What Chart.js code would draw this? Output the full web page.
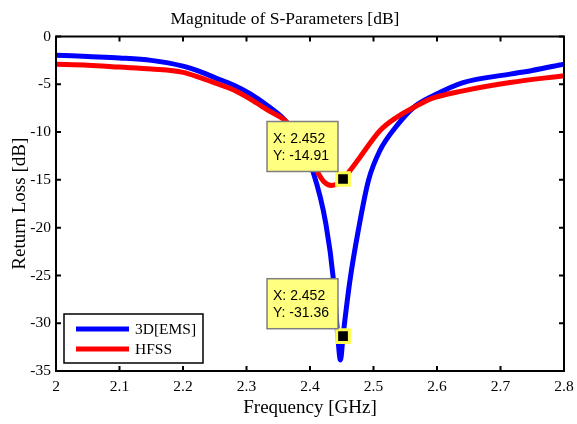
<!DOCTYPE html>
<html>
<head>
<meta charset="utf-8">
<script src="https://cdn.jsdelivr.net/npm/chart.js@4.4.0/dist/chart.umd.min.js"></script>
<style>
  html, body { margin: 0; padding: 0; background: #fff; }
</style>
</head>
<body>
<canvas id="chart" width="577" height="424"></canvas>
<script>
// 3D[EMS] simulation
const emsFreq = [2.000, 2.050, 2.100, 2.150, 2.200, 2.227, 2.250, 2.280, 2.306, 2.337, 2.361, 2.380, 2.405, 2.425, 2.437, 2.443, 2.448, 2.452, 2.463, 2.476, 2.492, 2.510, 2.536, 2.563, 2.594, 2.641, 2.715, 2.750, 2.800];
const emsLoss = [-1.95, -2.1, -2.25, -2.5, -3.1, -3.67, -4.3, -5.1, -6.0, -7.43, -8.8, -10.7, -14.2, -19.6, -25.5, -30.7, -33.85, -31.36, -25.5, -20.3, -15.07, -11.95, -9.4, -7.43, -6.2, -4.82, -3.94, -3.55, -2.9];

// HFSS simulation
const hfssFreq = [2.000, 2.050, 2.100, 2.150, 2.200, 2.227, 2.250, 2.280, 2.306, 2.337, 2.361, 2.380, 2.400, 2.413, 2.422, 2.434, 2.445, 2.452, 2.463, 2.479, 2.510, 2.536, 2.563, 2.589, 2.641, 2.715, 2.800];
const hfssLoss = [-2.9, -3.0, -3.2, -3.4, -3.75, -4.3, -4.85, -5.6, -6.55, -7.84, -8.8, -10.3, -12.6, -14.3, -15.2, -15.6, -15.35, -14.91, -14.03, -12.6, -9.86, -8.47, -7.43, -6.55, -5.69, -4.82, -4.1];

// data tips
const tipFreq = [2.452, 2.452];
const tipLoss = [-14.91, -31.36];

const xTicks = [2, 2.1, 2.2, 2.3, 2.4, 2.5, 2.6, 2.7, 2.8];
const yTicks = [-35, -30, -25, -20, -15, -10, -5, 0];

const serif = '"Liberation Serif", "Times New Roman", serif';
const toPoints = (xs, ys) => xs.map((x, i) => ({ x: x, y: ys[i] }));

// black box round the axes with inward ticks on all four sides
const framePlugin = {
  id: 'frame',
  afterDatasetsDraw(chart) {
    const { ctx, chartArea: a, scales } = chart;
    const len = 5;
    ctx.save();
    ctx.strokeStyle = '#000';
    ctx.lineWidth = 2;
    ctx.beginPath();
    xTicks.forEach(v => {
      const px = scales.x.getPixelForValue(v);
      ctx.moveTo(px, a.bottom); ctx.lineTo(px, a.bottom - len);
      ctx.moveTo(px, a.top); ctx.lineTo(px, a.top + len);
    });
    yTicks.forEach(v => {
      const py = scales.y.getPixelForValue(v);
      ctx.moveTo(a.left, py); ctx.lineTo(a.left + len, py);
      ctx.moveTo(a.right, py); ctx.lineTo(a.right - len, py);
    });
    ctx.stroke();
    ctx.strokeRect(a.left, a.top, a.right - a.left, a.bottom - a.top);
    ctx.restore();
  }
};

// legend box in the lower left corner
const boxLegend = {
  id: 'boxLegend',
  afterDraw(chart) {
    const { ctx, chartArea: a } = chart;
    const items = chart.data.datasets.filter(d => d.inLegend);
    const x0 = a.left + 8, w = 139, rowH = 20, h = 49;
    const y0 = a.bottom - 8 - h;
    ctx.save();
    ctx.fillStyle = '#fff';
    ctx.fillRect(x0, y0, w, h);
    ctx.strokeStyle = '#000';
    ctx.lineWidth = 1.5;
    ctx.strokeRect(x0, y0, w, h);
    ctx.font = '15.5px ' + serif;
    ctx.textBaseline = 'middle';
    ctx.fillStyle = '#000';
    items.forEach((d, i) => {
      const cy = y0 + 15 + i * rowH;
      ctx.strokeStyle = d.borderColor;
      ctx.lineWidth = 5;
      ctx.beginPath();
      ctx.moveTo(x0 + 12, cy);
      ctx.lineTo(x0 + 65, cy);
      ctx.stroke();
      ctx.fillText(d.label, x0 + 71, cy + 1);
    });
    ctx.restore();
  }
};

// MATLAB style data tip boxes
const dataTips = {
  id: 'dataTips',
  afterDraw(chart) {
    const { ctx, scales } = chart;
    ctx.save();
    tipFreq.forEach((f, i) => {
      const px = scales.x.getPixelForValue(f);
      const py = scales.y.getPixelForValue(tipLoss[i]);
      const bx = px - 76, by = py - 57.5, bw = 71, bh = 50;
      ctx.fillStyle = '#ffff80';
      ctx.fillRect(bx, by, bw, bh);
      ctx.strokeStyle = '#7f7f7f';
      ctx.lineWidth = 1.5;
      ctx.strokeRect(bx, by, bw, bh);
      ctx.fillStyle = '#000';
      ctx.font = '14px "Liberation Sans", Arial, sans-serif';
      ctx.textBaseline = 'middle';
      ctx.fillText('X: ' + f.toFixed(3), bx + 6, by + 17.5);
      ctx.fillText('Y: ' + tipLoss[i].toFixed(2), bx + 6, by + 34.5);
    });
    ctx.restore();
  }
};

new Chart(document.getElementById('chart').getContext('2d'), {
  type: 'line',
  data: {
    datasets: [{
      label: '3D[EMS]',
      data: toPoints(emsFreq, emsLoss),
      borderColor: '#0000ff',
      borderWidth: 5,
      pointRadius: 0,
      cubicInterpolationMode: 'monotone',
      fill: false,
      order: 2,
      inLegend: true
    }, {
      label: 'HFSS',
      data: toPoints(hfssFreq, hfssLoss),
      borderColor: '#ff0000',
      borderWidth: 5,
      pointRadius: 0,
      cubicInterpolationMode: 'monotone',
      fill: false,
      order: 1,
      inLegend: true
    }, {
      label: 'tips',
      data: toPoints(tipFreq, tipLoss),
      showLine: false,
      pointStyle: 'rect',
      pointRadius: 9,
      pointBackgroundColor: '#000',
      pointBorderColor: '#ffff50',
      pointBorderWidth: 3,
      order: 0
    }]
  },
  options: {
    responsive: false,
    animation: false,
    layout: { padding: { left: 6, right: 13 } },
    plugins: {
      legend: { display: false },
      tooltip: { enabled: false },
      title: {
        display: true,
        text: 'Magnitude of S-Parameters [dB]',
        color: '#000',
        font: { family: serif, size: 17.5, weight: 'normal' },
        padding: { top: 9, bottom: 6.5 }
      }
    },
    scales: {
      x: {
        type: 'linear',
        min: 2,
        max: 2.8,
        afterBuildTicks: s => { s.ticks = xTicks.map(v => ({ value: v })); },
        afterFit: s => { s.height = 53; s.paddingRight = 0; },
        grid: { display: false, drawTicks: false },
        border: { display: false },
        ticks: {
          color: '#000',
          font: { family: serif, size: 15.5 },
          padding: 7,
          maxRotation: 0,
          autoSkip: false,
          callback: v => String(v)
        },
        title: {
          display: true,
          text: 'Frequency [GHz]',
          color: '#000',
          font: { family: serif, size: 19 },
          padding: { top: 0, bottom: 5 }
        }
      },
      y: {
        type: 'linear',
        min: -35,
        max: 0,
        afterBuildTicks: s => { s.ticks = yTicks.map(v => ({ value: v })); },
        afterFit: s => { s.width = 50; },
        grid: { display: false, drawTicks: false },
        border: { display: false },
        ticks: {
          color: '#000',
          font: { family: serif, size: 15.5 },
          padding: 5,
          autoSkip: false
        },
        title: {
          display: true,
          text: 'Return Loss [dB]',
          color: '#000',
          font: { family: serif, size: 19 },
          padding: { top: 3, bottom: 0 }
        }
      }
    }
  },
  plugins: [framePlugin, boxLegend, dataTips]
});
</script>
</body>
</html>
